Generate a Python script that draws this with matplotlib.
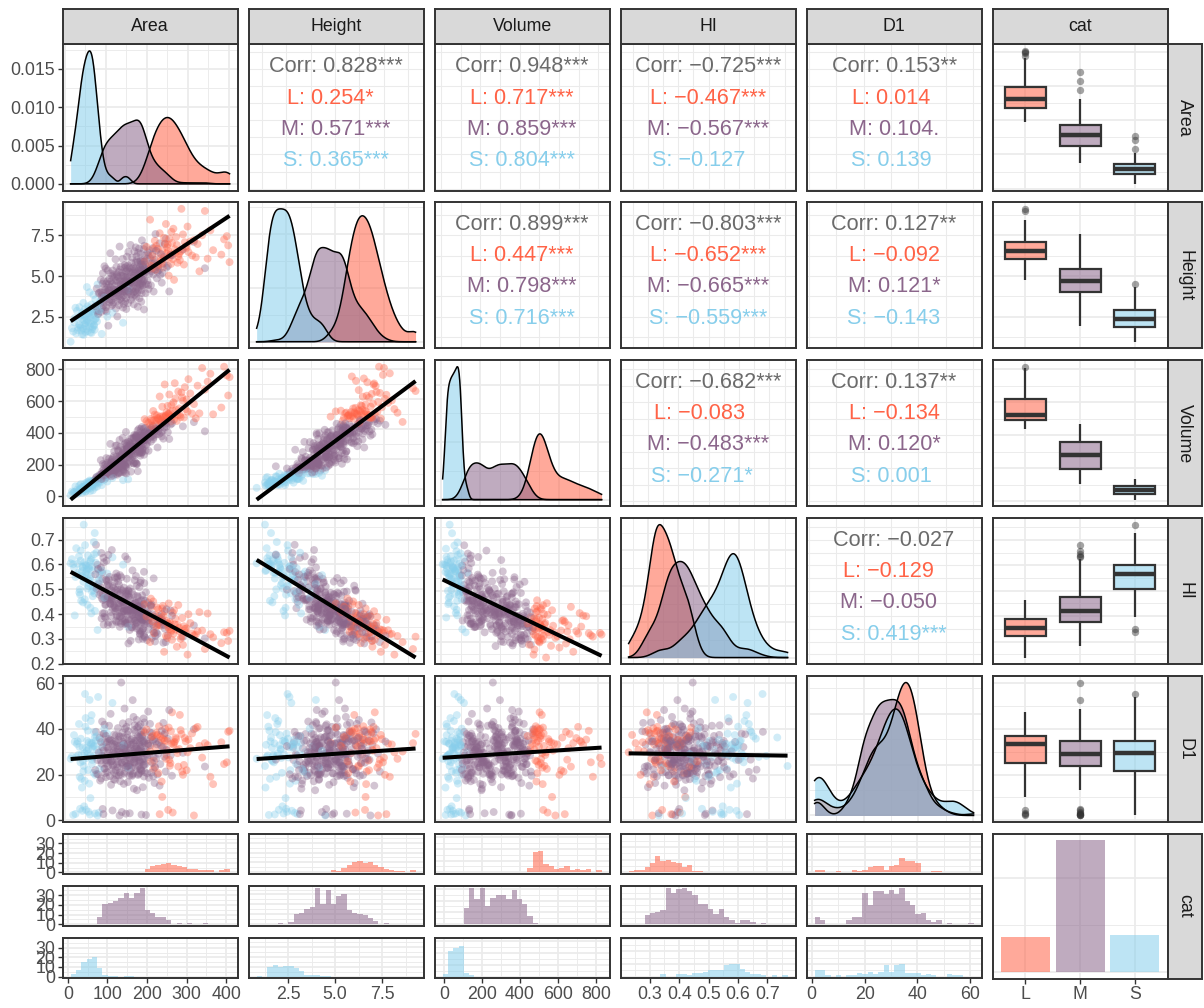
import numpy as np
import matplotlib
matplotlib.use("Agg")
import matplotlib.pyplot as plt
from matplotlib.colors import to_rgba
from matplotlib.patches import Rectangle
from matplotlib.ticker import MaxNLocator, FixedLocator, FormatStrFormatter
from matplotlib.transforms import offset_copy
from statistics import NormalDist

plt.rcParams["font.family"] = ["Liberation Sans", "DejaVu Sans"]
plt.rcParams["axes.unicode_minus"] = True

# ---------------------------------------------------------------- data
VARS = ["Area", "Height", "Volume", "HI", "D1"]
CATS = ["L", "M", "S"]
CAT_SIZES = [75, 280, 78]
CAT_COLORS = ["#FF6347", "#8B668B", "#87CEEB"]

# observed range of each variable
VAR_MIN = [14.0, 0.97, 8.0, 0.237, 2.1]
VAR_MAX = [402.0, 9.13, 816.0, 0.760, 60.2]

# counts in 30 equal-width bins centred from VAR_MIN to VAR_MAX
AREA_L = [0] * 14 + [3, 7, 8, 9, 10, 8, 7, 6, 3, 3, 2, 2, 2, 0, 2, 2]
AREA_M = [0, 0, 0, 0, 0, 8, 21, 22, 24, 27, 32, 28, 32, 38, 15,
          12, 8, 7, 4, 0, 1, 0, 1, 0, 1, 0, 0, 0, 0, 0]
AREA_S = [2, 7, 14, 17, 18, 9, 2, 1, 1, 0, 1] + [0] * 19
HEIGHT_L = [0] * 14 + [1, 1, 4, 7, 9, 10, 9, 9, 6, 5, 3, 2, 1, 1, 0, 1]
HEIGHT_M = [0, 0, 0, 0, 1, 0, 2, 10, 12, 15, 18, 39, 21, 36, 21,
            30, 31, 15, 11, 11, 9, 6, 3, 1, 0, 0, 0, 0, 0, 0]
HEIGHT_S = [1, 0, 11, 13, 12, 12, 13, 10, 6, 3, 2, 2, 2] + [0] * 17
VOLUME_L = [0] * 16 + [4, 19, 20, 8, 6, 3, 5, 5, 2, 4, 2, 3, 0, 2]
VOLUME_M = [0] * 4 + [17, 38, 26, 38, 19, 26, 31, 31, 26, 36, 26, 21, 9] + [0] * 13
VOLUME_S = [2, 27, 29, 32, 4] + [0] * 25
HI_L = [1, 2, 3, 5, 8, 17, 11, 13, 10, 8, 6, 7, 2] + [0] * 17
HI_M = [0, 0, 0, 9, 12, 12, 15, 38, 34, 36, 39, 34, 30, 21, 22,
        15, 11, 16, 7, 4, 2, 4, 4, 2, 1, 0, 0, 0, 0, 0]
HI_S = [0, 0, 0, 0, 0, 0, 2, 0, 0, 3, 2, 2, 4, 4, 6,
        7, 6, 8, 12, 13, 14, 8, 6, 3, 2, 2, 0, 1, 0, 1]
D1_L = [2, 2, 0, 0, 1, 0, 0, 2, 1, 3, 4, 6, 6, 2, 6,
        7, 12, 10, 10, 8, 0, 0, 2, 0, 0, 0, 0, 0, 0, 0]
D1_M = [7, 4, 0, 0, 1, 0, 4, 7, 9, 33, 20, 34, 35, 32, 36,
        32, 39, 24, 20, 10, 13, 4, 2, 4, 0, 1, 0, 0, 0, 1]
D1_S = [6, 6, 2, 0, 1, 0, 1, 2, 3, 3, 5, 3, 5, 12, 5,
        12, 12, 5, 4, 3, 2, 2, 2, 0, 0, 2, 2, 0, 0, 0]

# variable pairs and their correlation coefficients (overall and per class)
PAIRS = [(0, 1), (0, 2), (0, 3), (0, 4), (1, 2), (1, 3), (1, 4), (2, 3), (2, 4), (3, 4)]
CORR_ALL = [0.828, 0.948, -0.725, 0.153, 0.899, -0.803, 0.127, -0.682, 0.137, -0.027]
STARS_ALL = ["***", "***", "***", "**", "***", "***", "**", "***", "**", ""]
CORR_L = [0.254, 0.717, -0.467, 0.014, 0.447, -0.652, -0.092, -0.083, -0.134, -0.129]
STARS_L = ["*", "***", "***", "", "***", "***", "", "", "", ""]
CORR_M = [0.571, 0.859, -0.567, 0.104, 0.798, -0.665, 0.121, -0.483, 0.120, -0.050]
STARS_M = ["***", "***", "***", ".", "***", "***", "*", "***", "*", ""]
CORR_S = [0.365, 0.804, -0.127, 0.139, 0.716, -0.559, -0.143, -0.271, 0.001, 0.419]
STARS_S = ["***", "***", "", "", "***", "***", "", "*", "", "***"]

HISTS = {
    "L": [AREA_L, HEIGHT_L, VOLUME_L, HI_L, D1_L],
    "M": [AREA_M, HEIGHT_M, VOLUME_M, HI_M, D1_M],
    "S": [AREA_S, HEIGHT_S, VOLUME_S, HI_S, D1_S],
}
GROUP_CORR = {"L": CORR_L, "M": CORR_M, "S": CORR_S}
GROUP_STARS = {"L": STARS_L, "M": STARS_M, "S": STARS_S}

# ------------------------------------------------- build the sample table
NBINS = 30


def bin_width(v):
    return (VAR_MAX[v] - VAR_MIN[v]) / (NBINS - 1)


def quantile_values(counts, v, n):
    """Evenly spaced quantiles of the piecewise-uniform binned distribution."""
    lo, hi, w = VAR_MIN[v], VAR_MAX[v], bin_width(v)
    counts = np.asarray(counts, float)
    edges = np.clip(lo + (np.arange(NBINS + 1) - 0.5) * w, lo, hi)
    nz = np.nonzero(counts)[0]
    c = counts[nz]
    cum = np.concatenate([[0.0], np.cumsum(c)]) / c.sum()
    out = np.empty(n)
    for t, q in enumerate(np.linspace(0, 1, n)):
        k = min(np.searchsorted(cum, q, side="right") - 1, len(nz) - 1)
        frac = (q - cum[k]) / (cum[k + 1] - cum[k])
        b = nz[k]
        out[t] = edges[b] + frac * (edges[b + 1] - edges[b])
    return out


def radical_inverse(i, base):
    f, r = 1.0, 0.0
    while i > 0:
        f /= base
        r += f * (i % base)
        i //= base
    return r


def corr_matrix(vals):
    R = np.eye(5)
    for (a, b), r in zip(PAIRS, vals):
        R[a, b] = R[b, a] = r
    ev, evec = np.linalg.eigh(R)
    R = evec @ np.diag(np.clip(ev, 0.03, None)) @ evec.T
    d = np.sqrt(np.diag(R))
    return R / np.outer(d, d)


nd = NormalDist()
BASES = [2, 3, 5, 7, 11]
START = {"L": 11, "M": 137, "S": 523}
samples = {}
for g, n in zip(CATS, CAT_SIZES):
    latent = np.array([[nd.inv_cdf(radical_inverse(START[g] + i, b)) for b in BASES]
                       for i in range(n)])
    z = latent @ np.linalg.cholesky(corr_matrix(GROUP_CORR[g])).T
    table = np.empty((n, 5))
    for v in range(5):
        table[np.argsort(z[:, v]), v] = quantile_values(HISTS[g][v], v, n)
    samples[g] = table

all_vals = np.vstack([samples[g] for g in CATS])
all_cat = np.concatenate([[k] * n for k, n in enumerate(CAT_SIZES)])
draw_order = np.argsort((np.arange(len(all_cat)) * 0.6180339887) % 1.0)

# ---------------------------------------------------------------- layout
W, H = 1204, 1008
fig = plt.figure(figsize=(W / 100, H / 100), dpi=100)
fig.patch.set_facecolor("white")

COL_X = [62.7 + 186.0 * k for k in range(6)]
ROW_Y = [44.3 + 157.9 * k for k in range(6)]
PW, PH = 174.8, 146.2
FACET_DY = [0.0, 51.9, 104.3]
FACET_H = 40.4

BORDER = "#333333"
GRIDC = "#EBEBEB"
TICKC = "#4D4D4D"
FS = 12.8
ALPHA = 0.55

BREAK_STEP = [100, 2.5, 200, 0.1, 20]
TICK_FMT = ["%d", "%.1f", "%d", "%.1f", "%d"]


def add_axes_px(x, y, w, h):
    return fig.add_axes([x / W, 1 - (y + h) / H, w / W, h / H])


def base_style(ax):
    ax.set_facecolor("white")
    for s in ax.spines.values():
        s.set_color(BORDER)
        s.set_linewidth(1.4)
        s.set_zorder(10)
    ax.tick_params(which="both", left=False, bottom=False,
                   labelleft=False, labelbottom=False)


def expand(lo, hi, f=0.05):
    d = hi - lo
    return lo - f * d, hi + f * d


def breaks(lo, hi, step):
    k0 = np.floor(lo / step) - 1
    k1 = np.ceil(hi / step) + 1
    return np.round(np.arange(k0, k1 + 1) * step, 10)


def grid(ax, xmaj=None, ymaj=None, xminor=True, yminor=True, thin=False):
    wmaj = 0.75 if thin else 1.25
    wmin = 0.75 if thin else 0.65
    if xmaj is not None:
        for v in xmaj:
            ax.axvline(v, color=GRIDC, lw=wmaj, zorder=0)
        if xminor:
            for v in (xmaj[:-1] + xmaj[1:]) / 2:
                ax.axvline(v, color=GRIDC, lw=wmin, zorder=0)
    if ymaj is not None:
        for v in ymaj:
            ax.axhline(v, color=GRIDC, lw=wmaj, zorder=0)
        if yminor:
            for v in (ymaj[:-1] + ymaj[1:]) / 2:
                ax.axhline(v, color=GRIDC, lw=wmin, zorder=0)


def var_breaks(v):
    return breaks(VAR_MIN[v] - 0.2 * (VAR_MAX[v] - VAR_MIN[v]),
                  VAR_MAX[v] + 0.2 * (VAR_MAX[v] - VAR_MIN[v]), BREAK_STEP[v])


def nice(lo, hi, nb=5):
    t = np.asarray(MaxNLocator(nbins=nb, steps=[1, 2, 2.5, 5, 10]).tick_values(lo, hi))
    step = t[1] - t[0]
    return np.concatenate([t, [t[-1] + step]])


def left_ticks(ax, ticks, fmt):
    lo, hi = ax.get_ylim()
    ax.yaxis.set_major_locator(FixedLocator([t for t in ticks if lo <= t <= hi]))
    ax.yaxis.set_major_formatter(FormatStrFormatter(fmt))
    ax.tick_params(axis="y", left=True, labelleft=True, length=3.5, width=1.0,
                   color=BORDER, labelsize=FS, labelcolor=TICKC, pad=2)


def bottom_ticks(ax, ticks, fmt=None, labels=None):
    lo, hi = ax.get_xlim()
    tk = [t for t in ticks if lo <= t <= hi]
    ax.xaxis.set_major_locator(FixedLocator(tk))
    if labels is not None:
        ax.set_xticklabels(labels)
    else:
        ax.xaxis.set_major_formatter(FormatStrFormatter(fmt))
    ax.tick_params(axis="x", bottom=True, labelbottom=True, length=3.5, width=1.0,
                   color=BORDER, labelsize=FS, labelcolor=TICKC, pad=2)


def strip(x, y, w, h, text, vertical=False):
    ax = add_axes_px(x, y, w, h)
    ax.set_facecolor("#D9D9D9")
    for s in ax.spines.values():
        s.set_color(BORDER)
        s.set_linewidth(1.4)
    ax.set_xticks([])
    ax.set_yticks([])
    ax.text(0.5, 0.5, text, rotation=-90 if vertical else 0, ha="center", va="center",
            fontsize=FS, color="#1A1A1A", transform=ax.transAxes)


def kde(x, grid_x):
    n = len(x)
    iqr = np.subtract(*np.percentile(x, [75, 25]))
    bw = 0.9 * min(np.std(x, ddof=1), iqr / 1.34) * n ** (-0.2)
    u = (grid_x[:, None] - x[None, :]) / bw
    return np.exp(-0.5 * u ** 2).sum(axis=1) / (n * bw * np.sqrt(2 * np.pi))


def fmt_r(v):
    return f"{v:.3f}".replace("-", "\u2212")


# ------------------------------------------------------------ draw panels
for i in range(6):
    for j in range(6):
        x0, y0 = COL_X[j], ROW_Y[i]

        if i < 5 and j < 5 and i == j:
            # density of one variable, one curve per class
            ax = add_axes_px(x0, y0, PW, PH)
            base_style(ax)
            gx = np.linspace(VAR_MIN[i], VAR_MAX[i], 512)
            dens = [kde(samples[g][:, i], gx) for g in CATS]
            top = max(d.max() for d in dens)
            ax.set_xlim(*expand(VAR_MIN[i], VAR_MAX[i]))
            ax.set_ylim(-0.05 * top, 1.05 * top)
            yb = nice(-0.05 * top, 1.05 * top)
            grid(ax, var_breaks(i), yb)
            for d, c in zip(dens, CAT_COLORS):
                ax.fill_between(gx, d, color=c, alpha=ALPHA, lw=0, zorder=2)
                ax.plot(gx, d, color="black", lw=1.1, zorder=3)
            if j == 0:
                left_ticks(ax, yb, "%.3f")

        elif i < 5 and j < 5 and i > j:
            # scatter of row variable against column variable, with a linear fit
            ax = add_axes_px(x0, y0, PW, PH)
            base_style(ax)
            xv = all_vals[draw_order, j]
            yv = all_vals[draw_order, i]
            cols = [to_rgba(CAT_COLORS[k], 0.38) for k in all_cat[draw_order]]
            slope, icpt = np.polyfit(all_vals[:, j], all_vals[:, i], 1)
            lx = np.array([VAR_MIN[j], VAR_MAX[j]])
            ly = icpt + slope * lx
            ylo = min(VAR_MIN[i], ly.min())
            yhi = max(VAR_MAX[i], ly.max())
            ax.set_xlim(*expand(VAR_MIN[j], VAR_MAX[j]))
            ax.set_ylim(*expand(ylo, yhi))
            grid(ax, var_breaks(j), var_breaks(i))
            ax.scatter(xv, yv, s=32, c=cols, linewidths=0, zorder=2)
            ax.plot(lx, ly, color="black", lw=2.9, solid_capstyle="butt", zorder=3)
            if j == 0:
                left_ticks(ax, var_breaks(i), TICK_FMT[i])

        elif i < 5 and j < 5 and i < j:
            # correlation summary text
            ax = add_axes_px(x0, y0, PW, PH)
            base_style(ax)
            ax.set_xlim(*expand(VAR_MIN[j], VAR_MAX[j]))
            ax.set_ylim(*expand(VAR_MIN[i], VAR_MAX[i]))
            grid(ax, var_breaks(j), var_breaks(i), thin=True)
            p = PAIRS.index((i, j))
            fs = 15.6
            ax.text(0.5, 0.811, "Corr: " + fmt_r(CORR_ALL[p]) + STARS_ALL[p],
                    ha="center", va="baseline", fontsize=fs, color="#6B6B6B",
                    transform=ax.transAxes)
            vals = [fmt_r(GROUP_CORR[g][p]) + GROUP_STARS[g][p] for g in CATS]
            width = max(len(s) for s in vals)
            for k, (g, s) in enumerate(zip(CATS, vals)):
                pad = width - len(s)
                tr = offset_copy(ax.transAxes, fig=fig, x=-pad * 0.278 * fs / 2,
                                 y=0, units="points")
                ax.text(0.5, [0.595, 0.383, 0.167][k], f"{g}: {s}", ha="center",
                        va="baseline", fontsize=fs, color=CAT_COLORS[k], transform=tr)

        elif i < 5 and j == 5:
            # boxplots of the row variable by class
            ax = add_axes_px(x0, y0, PW, PH)
            base_style(ax)
            ax.set_xlim(0.4, 3.6)
            ax.set_ylim(*expand(VAR_MIN[i], VAR_MAX[i]))
            grid(ax, np.array([1.0, 2.0, 3.0]), var_breaks(i), xminor=False)
            for k, g in enumerate(CATS):
                vals = samples[g][:, i]
                pos = k + 1
                q1, med, q3 = np.percentile(vals, [25, 50, 75])
                iqr = q3 - q1
                inside = vals[(vals >= q1 - 1.5 * iqr) & (vals <= q3 + 1.5 * iqr)]
                out = vals[(vals < q1 - 1.5 * iqr) | (vals > q3 + 1.5 * iqr)]
                ax.plot([pos, pos], [inside.min(), q1], color=BORDER, lw=1.6,
                        solid_capstyle="butt", zorder=2)
                ax.plot([pos, pos], [q3, inside.max()], color=BORDER, lw=1.6,
                        solid_capstyle="butt", zorder=2)
                ax.add_patch(Rectangle((pos - 0.375, q1), 0.75, q3 - q1,
                                       facecolor=to_rgba(CAT_COLORS[k], ALPHA),
                                       edgecolor=BORDER, lw=1.6, zorder=3))
                ax.plot([pos - 0.375, pos + 0.375], [med, med], color=BORDER, lw=3.2,
                        solid_capstyle="butt", zorder=4)
                ax.scatter(np.full(len(out), pos), out, s=28, color=BORDER,
                           alpha=0.45, linewidths=0, zorder=4)

        elif i == 5 and j < 5:
            # histograms of the column variable, one facet per class
            w = bin_width(j)
            edges = VAR_MIN[j] + (np.arange(NBINS + 1) - 0.5) * w
            centers = VAR_MIN[j] + np.arange(NBINS) * w
            counts = [np.histogram(samples[g][:, j], bins=edges)[0] for g in CATS]
            top = max(c.max() for c in counts)
            yb = nice(-0.05 * top, 1.05 * top)
            for k, g in enumerate(CATS):
                ax = add_axes_px(x0, y0 + FACET_DY[k], PW, FACET_H)
                base_style(ax)
                ax.set_xlim(*expand(edges[0], edges[-1]))
                ax.set_ylim(-0.05 * top, 1.05 * top)
                grid(ax, var_breaks(j), yb)
                ax.bar(centers, counts[k], width=w, color=to_rgba(CAT_COLORS[k], ALPHA),
                       linewidth=0, zorder=2)
                if j == 0:
                    left_ticks(ax, yb, "%d")
                if k == 2:
                    bottom_ticks(ax, var_breaks(j), TICK_FMT[j])

        else:
            # number of observations per class
            ax = add_axes_px(x0, y0, PW, FACET_DY[2] + FACET_H)
            base_style(ax)
            sizes = [len(samples[g]) for g in CATS]
            top = max(sizes)
            ax.set_xlim(0.4, 3.6)
            ax.set_ylim(-0.05 * top, 1.05 * top)
            yb = nice(-0.05 * top, 1.05 * top, nb=3)
            grid(ax, np.array([1.0, 2.0, 3.0]), yb, xminor=False)
            ax.bar([1, 2, 3], sizes, width=0.9,
                   color=[to_rgba(c, ALPHA) for c in CAT_COLORS], linewidth=0, zorder=2)
            bottom_ticks(ax, [1, 2, 3], labels=CATS)

# strips
for j, name in enumerate(VARS + ["cat"]):
    strip(COL_X[j], 9.0, PW, ROW_Y[0] - 9.0, name)
for i, name in enumerate(VARS):
    strip(COL_X[5] + PW, ROW_Y[i], 34.5, PH, name, vertical=True)
strip(COL_X[5] + PW, ROW_Y[5], 34.5, FACET_DY[2] + FACET_H, "cat", vertical=True)

fig.savefig("out.png", dpi=100, facecolor="white")
